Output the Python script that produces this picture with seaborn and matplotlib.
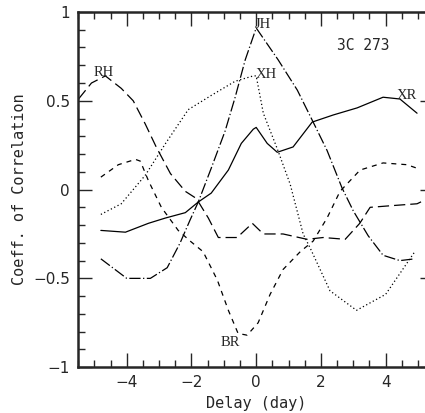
import pandas as pd
import matplotlib
matplotlib.use("Agg")
import matplotlib.pyplot as plt
from matplotlib.ticker import MultipleLocator
import seaborn as sns

sns.set_style("ticks")
plt.rcParams.update({'font.size': 11})

# Cross-correlation curves
xr_x = [-4.8, -4.04, -3.33, -2.8, -2.19, -1.79, -1.39, -0.86, -0.46, -0.09, 0.0,
        0.34, 0.65, 1.14, 1.73, 2.38, 3.12, 3.92, 4.44, 4.97]
xr_y = [-0.23, -0.24, -0.19, -0.16, -0.13, -0.07, -0.02, 0.11, 0.26, 0.34, 0.35,
        0.26, 0.21, 0.24, 0.38, 0.42, 0.46, 0.52, 0.51, 0.43]

jh_x = [-4.8, -4.0, -3.27, -2.75, -2.35, -2.04, -1.79, -1.39, -0.96, -0.65, -0.34, 0.0,
        0.68, 1.27, 1.76, 2.19, 2.65, 3.0, 3.46, 3.92, 4.44, 4.9]
jh_y = [-0.39, -0.50, -0.50, -0.44, -0.30, -0.17, -0.07, 0.12, 0.33, 0.52, 0.73, 0.91,
        0.73, 0.56, 0.38, 0.22, 0.01, -0.12, -0.26, -0.37, -0.40, -0.39]

xh_x = [-4.8, -4.17, -3.43, -2.8, -2.1, -1.39, -0.65, -0.09, 0.0, 0.22, 0.65, 1.05,
        1.45, 1.67, 2.28, 3.1, 4.0, 4.9]
xh_y = [-0.14, -0.08, 0.08, 0.26, 0.45, 0.53, 0.61, 0.64, 0.64, 0.43, 0.23, 0.03,
        -0.25, -0.33, -0.57, -0.68, -0.59, -0.35]

rh_x = [-5.49, -5.09, -4.66, -4.17, -3.8, -3.43, -3.09, -2.65, -2.19, -1.85, -1.48,
        -1.17, -0.59, -0.12, 0.22, 0.83, 1.57, 2.07, 2.75, 3.2, 3.52, 4.23, 4.97, 5.2]
rh_y = [0.51, 0.60, 0.64, 0.57, 0.50, 0.37, 0.24, 0.09, -0.01, -0.05, -0.16,
        -0.27, -0.27, -0.19, -0.25, -0.25, -0.28, -0.27, -0.28, -0.19, -0.10, -0.09, -0.08, -0.06]

br_x = [-4.8, -4.26, -3.73, -3.58, -3.33, -2.93, -2.41, -2.04, -1.64, -1.2, -0.86,
        -0.56, -0.28, 0.06, 0.43, 0.83, 1.36, 1.76, 2.19, 2.59, 3.21, 3.92, 4.66, 4.97]
br_y = [0.07, 0.14, 0.17, 0.16, 0.05, -0.10, -0.23, -0.29, -0.35, -0.51, -0.68,
        -0.81, -0.82, -0.75, -0.59, -0.45, -0.35, -0.29, -0.16, -0.01, 0.11, 0.15, 0.14, 0.12]

series = [
    ("XR", xr_x, xr_y, "-"),
    ("JH", jh_x, jh_y, (0, (9, 2, 1, 2))),
    ("XH", xh_x, xh_y, (0, (1, 2))),
    ("RH", rh_x, rh_y, (0, (9, 4))),
    ("BR", br_x, br_y, (0, (4, 4))),
]

labels = {"RH": (-4.72, 0.66), "JH": (0.2, 0.93), "XH": (0.3, 0.65),
          "XR": (4.65, 0.53), "BR": (-0.8, -0.86)}

fig = plt.figure(figsize=(4.25, 4.13), dpi=100)
ax = fig.add_axes([0.184, 0.111, 356 / 425, 0.86])

for name, xs, ys, ls in series:
    df = pd.DataFrame({"delay": xs, "corr": ys})
    sns.lineplot(data=df, x="delay", y="corr", ax=ax, color="black",
                 linewidth=0.9, linestyle=ls, sort=False, estimator=None)

for name, (tx, ty) in labels.items():
    ax.text(tx, ty, name, family="Liberation Serif", fontsize=10.5,
            ha="center", va="center")
ax.text(3.3, 0.81, "3C 273", family="DejaVu Sans Mono", fontsize=10.5,
        ha="center", va="center")

ax.set_xlim(-5.5, 5.5)
ax.set_ylim(-1, 1)
ax.xaxis.set_minor_locator(MultipleLocator(0.5))
ax.yaxis.set_minor_locator(MultipleLocator(0.1))
ax.set_yticks([-1, -0.5, 0, 0.5, 1])
ax.set_yticklabels(["\u22121", "\u22120.5", "0", "0.5", "1"])
ax.set_xticks([-4, -2, 0, 2, 4])
ax.set_xticklabels(["\u22124", "\u22122", "0", "2", "4"])
ax.tick_params(which="both", direction="in", top=True, right=True, width=1.0)
ax.tick_params(which="major", length=10, labelsize=11, pad=6)
ax.tick_params(which="minor", length=5)
for s in ax.spines.values():
    s.set_linewidth(1.8)

ax.set_xlabel("Delay (day)", family="DejaVu Sans Mono", fontsize=11)
ax.set_ylabel("Coeff. of Correlation", family="DejaVu Sans Mono", fontsize=11)

fig.savefig("out.png", dpi=100)
